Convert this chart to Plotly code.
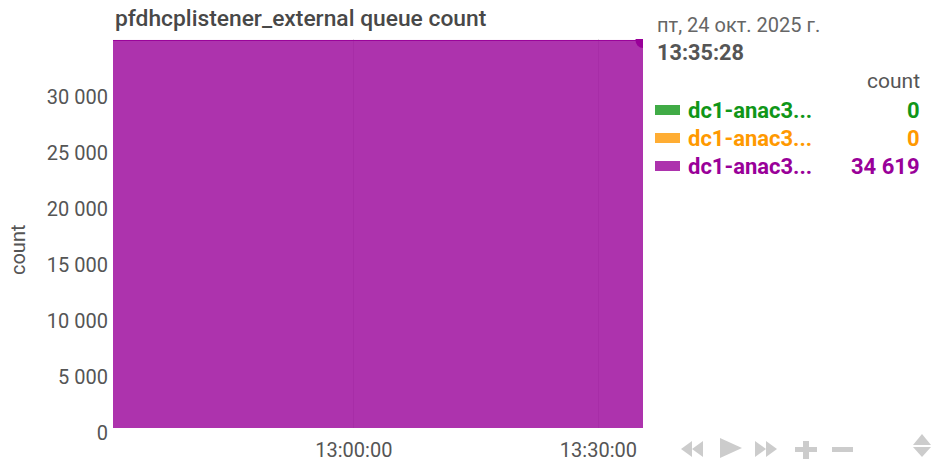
import plotly.graph_objects as go
import pandas as pd

# ---- data ----
times = ["2025-10-24 12:30:28", "2025-10-24 12:35:28", "2025-10-24 12:40:28", "2025-10-24 12:45:28",
         "2025-10-24 12:50:28", "2025-10-24 12:55:28", "2025-10-24 13:00:28", "2025-10-24 13:05:28",
         "2025-10-24 13:10:28", "2025-10-24 13:15:28", "2025-10-24 13:20:28", "2025-10-24 13:25:28",
         "2025-10-24 13:30:28", "2025-10-24 13:35:28"]
series_names = ["dc1-anac3...", "dc1-anac3...", "dc1-anac3..."]
series_colors = ["#109618", "#FF9900", "#990099"]
green_vals = [0, 0, 0, 0, 0, 0, 0, 0, 0, 0, 0, 0, 0, 0]
orange_vals = [0, 0, 0, 0, 0, 0, 0, 0, 0, 0, 0, 0, 0, 0]
purple_vals = [34619, 34619, 34619, 34619, 34619, 34619, 34619, 34619, 34619, 34619, 34619, 34619, 34619, 34619]
series_vals = [green_vals, orange_vals, purple_vals]
y_ticks = [0, 5000, 10000, 15000, 20000, 25000, 30000]
y_ticklabels = ["0", "5 000", "10 000", "15 000", "20 000", "25 000", "30 000"]
x_ticks = ["2025-10-24 13:00:00", "2025-10-24 13:30:00"]
x_ticklabels = ["13:00:00", "13:30:00"]
title = "pfdhcplistener_external queue count"
date_text = "пт, 24 окт. 2025 г."
time_text = "13:35:28"
units = "count"

W, H = 932, 461
L, R, T, B = 113, 643, 39, 428  # plot area in window pixels
FONT = "Roboto"
GRAY = "#555555"

def px(x):
    return (x - L) / (R - L)

def py(y):
    return (B - y) / (B - T)

fig = go.Figure()
fills = ["rgba(16,150,24,0.8)", "rgba(255,153,0,0.8)", "rgba(153,0,153,0.8)"]
widths = [0, 0, 1]
for name, col, fc, vals, lw in zip(series_names, series_colors, fills, series_vals, widths):
    fig.add_trace(go.Scatter(
        x=pd.to_datetime(times), y=vals, name=name, stackgroup="one",
        mode="lines", line=dict(color=col, width=lw), fillcolor=fc,
        showlegend=False, hoverinfo="skip"))

# highlight point at last sample
total_last = green_vals[-1] + orange_vals[-1] + purple_vals[-1]
fig.add_trace(go.Scatter(
    x=[pd.to_datetime(times[-1])], y=[total_last], mode="markers",
    marker=dict(color=series_colors[2], size=15), showlegend=False,
    hoverinfo="skip", cliponaxis=True))

fig.update_layout(
    width=W, height=H,
    margin=dict(l=L, r=W - R, t=T, b=H - B, pad=0, autoexpand=False),
    paper_bgcolor="white", plot_bgcolor="white",
    font=dict(family=FONT, color=GRAY, size=20),
    xaxis=dict(range=[pd.to_datetime(times[0]), pd.to_datetime(times[-1])],
               tickvals=pd.to_datetime(x_ticks), ticktext=x_ticklabels,
               showgrid=True, gridcolor="#e2e2e2", gridwidth=1,
               showline=False, zeroline=False, ticks="", automargin=False,
               ticklabelstandoff=8,
               tickfont=dict(size=20, color=GRAY)),
    yaxis=dict(range=[0, 34750], tickvals=y_ticks, ticktext=y_ticklabels,
               showgrid=False, zeroline=False, showline=False, ticks="", automargin=False,
               tickfont=dict(size=20, color=GRAY), ticklabelstandoff=4,
               ticklabelshift=5),
)

ann = []
# y-axis title
ann.append(dict(text=units, x=px(18), y=py(250), xref="paper", yref="paper",
                xanchor="center", yanchor="middle", showarrow=False, textangle=-90,
                font=dict(size=20, color=GRAY)))
ann.append(dict(text=title, x=0, y=py(19), xref="paper", yref="paper",
                xanchor="left", yanchor="middle", showarrow=False,
                font=dict(size=22.8, color="#484848", weight=500)))
ann.append(dict(text=date_text, x=px(655), y=py(25), xref="paper", yref="paper",
                xanchor="left", yanchor="middle", showarrow=False,
                font=dict(size=20, color="#666666")))
ann.append(dict(text=time_text, x=px(655), y=py(52), xref="paper", yref="paper",
                xanchor="left", yanchor="middle", showarrow=False,
                font=dict(size=21.7, color="#555555", weight="bold")))
ann.append(dict(text=units, x=px(922), y=py(81), xref="paper", yref="paper",
                xanchor="right", yanchor="middle", showarrow=False,
                font=dict(size=21, color="#555555")))
shapes = []
rows_y = [110, 138, 166]
for ry, name, col, vals in zip(rows_y, series_names, series_colors, series_vals):
    shapes.append(dict(type="rect", xref="paper", yref="paper",
                       x0=px(655), x1=px(680), y0=py(ry + 5), y1=py(ry - 5),
                       fillcolor=col, line=dict(width=0), opacity=0.8))
    ann.append(dict(text=name, x=px(686), y=py(ry), xref="paper", yref="paper",
                    xanchor="left", yanchor="middle", showarrow=False,
                    font=dict(size=22, color=col, weight="bold")))
    ann.append(dict(text=f"{vals[-1]:,}".replace(",", " "), x=px(922), y=py(ry),
                    xref="paper", yref="paper", xanchor="right", yanchor="middle",
                    showarrow=False, font=dict(size=22, color=col, weight="bold")))

# toolbar icons
ICON = "#cccccc"
def path(points):
    s = "M " + " L ".join(f"{px(x)},{py(y)}" for x, y in points) + " Z"
    return dict(type="path", path=s, xref="paper", yref="paper",
                fillcolor=ICON, line=dict(width=0))

# rewind
shapes.append(path([(681, 449), (692, 441), (692, 457)]))
shapes.append(path([(692, 449), (703, 441), (703, 457)]))
# play
shapes.append(path([(720, 438), (742, 448), (720, 458)]))
# fast forward
shapes.append(path([(755, 441), (766, 449), (755, 457)]))
shapes.append(path([(766, 441), (777, 449), (766, 457)]))
# plus
shapes.append(path([(795, 447), (817, 447), (817, 452), (795, 452)]))
shapes.append(path([(803, 441), (809, 441), (809, 459), (803, 459)]))
# minus
shapes.append(path([(832, 447), (853, 447), (853, 452), (832, 452)]))
# up/down
shapes.append(path([(913, 445), (922, 434), (931, 445)]))
shapes.append(path([(913, 447), (931, 447), (922, 457)]))

fig.update_layout(annotations=ann, shapes=shapes)
fig.write_html("out.html", config={"displayModeBar": False},
               post_script="document.body.style.margin='0';document.body.style.overflow='hidden';")
